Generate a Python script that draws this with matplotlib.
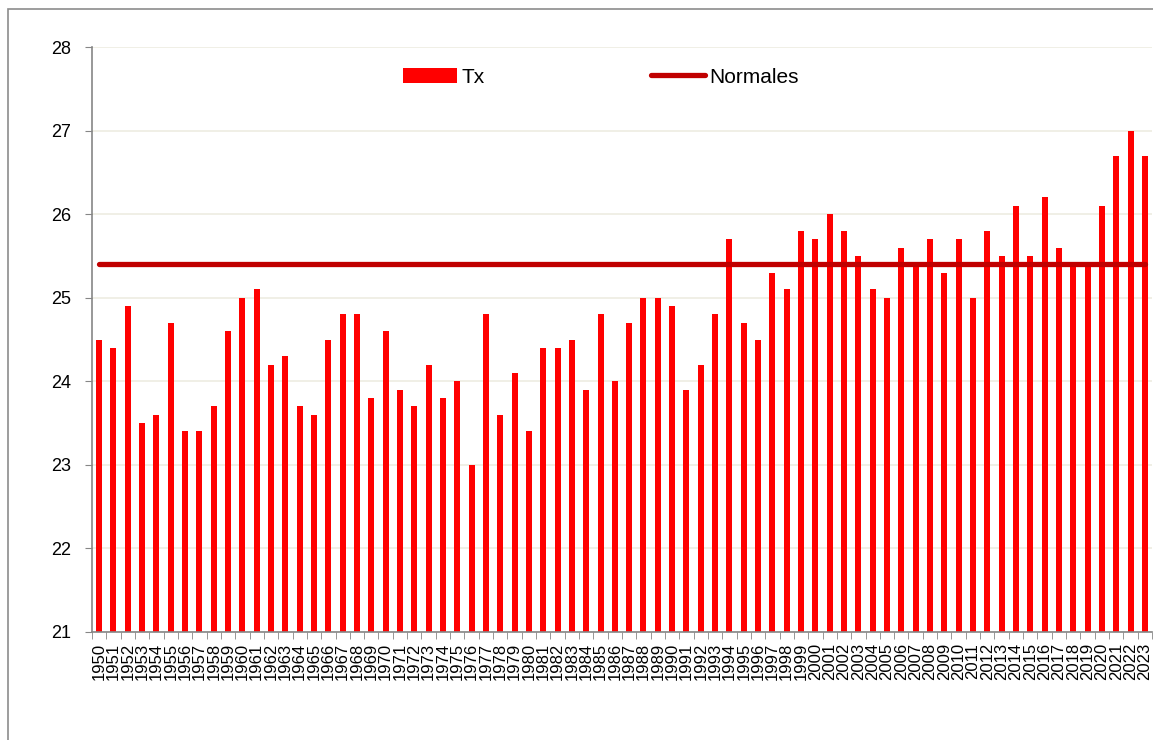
import matplotlib.pyplot as plt
import numpy as np
from matplotlib.patches import Rectangle

# annual mean maximum temperature (Tx) and the normal value
years = list(range(1950, 2024))
tx = [24.5, 24.4, 24.9, 23.5, 23.6, 24.7, 23.4, 23.4, 23.7, 24.6,
      25.0, 25.1, 24.2, 24.3, 23.7, 23.6, 24.5, 24.8, 24.8, 23.8,
      24.6, 23.9, 23.7, 24.2, 23.8, 24.0, 23.0, 24.8, 23.6, 24.1,
      23.4, 24.4, 24.4, 24.5, 23.9, 24.8, 24.0, 24.7, 25.0, 25.0,
      24.9, 23.9, 24.2, 24.8, 25.7, 24.7, 24.5, 25.3, 25.1, 25.8,
      25.7, 26.0, 25.8, 25.5, 25.1, 25.0, 25.6, 25.4, 25.7, 25.3,
      25.7, 25.0, 25.8, 25.5, 26.1, 25.5, 26.2, 25.6, 25.4, 25.4,
      26.1, 26.7, 27.0, 26.7]
normale = 25.4

plt.rcParams['font.family'] = ['Liberation Sans', 'DejaVu Sans']

fig = plt.figure(figsize=(11.53, 7.40), dpi=100)
ax = fig.add_axes([92 / 1153, 1 - 632 / 740, 1060 / 1153, 585 / 740])

# outer chart border
fig.patches.append(Rectangle((8 / 1153, -0.05), 1.1, 1 - 9 / 740 + 0.05,
                             transform=fig.transFigure, fill=False,
                             edgecolor="#8c8c8c", linewidth=1.2))

x = np.arange(len(years))
bars = ax.bar(x, [v - 21 for v in tx], bottom=21, width=0.42, color="#FF0000", label="Tx", zorder=2)
line, = ax.plot([x[0], x[-1]], [normale, normale], color="#C00000", linewidth=3.8,
                solid_capstyle="round", label="Normales", zorder=3)

ax.set_xlim(-0.5, len(years) - 0.5)
ax.set_ylim(21, 28)
ax.set_yticks(range(21, 29))
ax.grid(axis="y", color="#EEECE1", linewidth=1.2, zorder=0)
ax.set_axisbelow(True)

ax.set_xticks(x)
ax.set_xticklabels([str(y) for y in years], rotation=90, fontsize=12)
ax.set_xticks(np.arange(-0.5, len(years)), minor=True)
ax.tick_params(axis="x", which="major", length=0, pad=8)
ax.tick_params(axis="x", which="minor", length=5, color="#868686")
ax.tick_params(axis="y", labelsize=13, length=5, color="#868686", pad=10)

for s in ["top", "right"]:
    ax.spines[s].set_visible(False)
for s in ["left", "bottom"]:
    ax.spines[s].set_color("#868686")
    ax.spines[s].set_linewidth(1.2)

ax.legend([bars, line], ["Tx", "Normales"], loc="upper center",
          bbox_to_anchor=(0.48, 0.997), ncol=2, frameon=False,
          fontsize=15, handlelength=2.6, handleheight=0.8, columnspacing=8.0,
          handletextpad=0.2)

plt.savefig("out.png", dpi=100)
